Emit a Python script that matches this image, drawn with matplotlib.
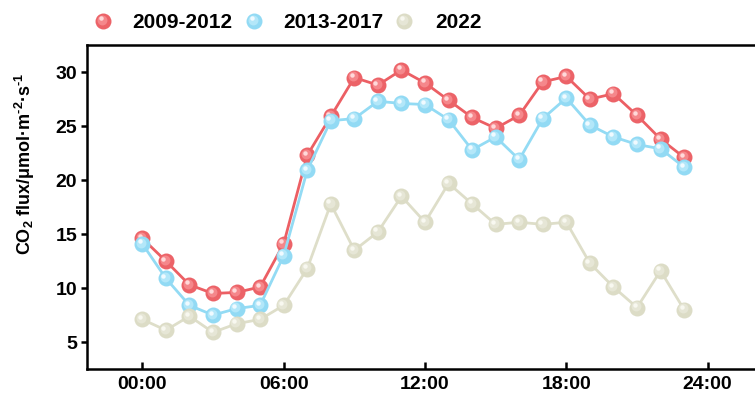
import matplotlib
matplotlib.use("Agg")
import matplotlib.pyplot as plt
from matplotlib.transforms import offset_copy

plt.rcParams["font.family"] = ["Liberation Sans", "DejaVu Sans"]
plt.rcParams["font.weight"] = "bold"
plt.rcParams["mathtext.fontset"] = "custom"
plt.rcParams["mathtext.rm"] = "Liberation Sans:bold"
plt.rcParams["mathtext.default"] = "rm"

# ── Data: hourly CO2 flux ───────────────────────────────────────────
hours = list(range(24))
flux_2009_2012 = [14.6, 12.5, 10.3, 9.5, 9.6, 10.1, 14.1, 22.3, 25.9, 29.5,
                  28.8, 30.2, 29.0, 27.4, 25.8, 24.8, 26.0, 29.1, 29.6, 27.5,
                  28.0, 26.0, 23.8, 22.1]
flux_2013_2017 = [14.1, 10.9, 8.4, 7.5, 8.1, 8.4, 13.0, 20.9, 25.5, 25.7,
                  27.3, 27.1, 27.0, 25.6, 22.8, 24.0, 21.9, 25.7, 27.6, 25.1,
                  24.0, 23.3, 22.9, 21.2]
flux_2022 = [7.1, 6.1, 7.4, 5.9, 6.7, 7.1, 8.4, 11.8, 17.8, 13.5,
             15.2, 18.5, 16.1, 19.7, 17.8, 15.9, 16.1, 15.9, 16.1, 12.3,
             10.1, 8.2, 11.6, 8.0]
labels = ["2009-2012", "2013-2017", "2022"]
xtick_pos = [0, 6, 12, 18, 24]
xtick_labels = ["00:00", "06:00", "12:00", "18:00", "24:00"]
ytick_pos = [5, 10, 15, 20, 25, 30]

# (line colour, ball base, ball mid-tone, highlight)
styles = [
    ("#EC5F64", "#EC6368", "#F5878B", "#FFD9DA"),
    ("#93DBF4", "#92DAF4", "#B3E7F9", "#F0FAFF"),
    ("#DEDEC9", "#DCDCC6", "#E6E6D6", "#F8F8F0"),
]

fig = plt.figure(figsize=(7.55, 3.96), dpi=100)
ax = fig.add_axes([0.1152, 0.068, 0.897, 0.818])

MS = 11.5


def draw_balls(ax, x, y, st, zorder, transform=None):
    line_c, base, mid, hi = st
    base_t = transform if transform is not None else ax.transData
    if transform is None:
        ax.plot(x, y, color=line_c, lw=2, zorder=zorder, solid_capstyle="round")
    ax.plot(x, y, ls="none", marker="o", ms=MS, mfc=base, mec="none",
            transform=base_t, zorder=zorder, clip_on=False)
    t_mid = offset_copy(base_t, fig=fig, x=-0.9, y=0.9, units="points")
    ax.plot(x, y, ls="none", marker="o", ms=MS * 0.62, mfc=mid, mec="none",
            transform=t_mid, zorder=zorder, clip_on=False)
    t_hi = offset_copy(base_t, fig=fig, x=-1.8, y=1.8, units="points")
    ax.plot(x, y, ls="none", marker="o", ms=MS * 0.28, mfc=hi, mec="none",
            transform=t_hi, zorder=zorder, clip_on=False)


for i, series in enumerate([flux_2009_2012, flux_2013_2017, flux_2022]):
    draw_balls(ax, hours, series, styles[i], 3 + i)

ax.set_xlim(-2.35, 26.4)
ax.set_ylim(2.5, 32.5)
ax.set_xticks(xtick_pos)
ax.set_xticklabels(xtick_labels)
ax.set_yticks(ytick_pos)

for s in ax.spines.values():
    s.set_linewidth(1.8)
ax.tick_params(axis="x", direction="in", length=5, width=1.8, labelsize=14, pad=5)
ax.tick_params(axis="y", direction="out", length=4, width=1.8, labelsize=14, pad=3)

# hyphen (U+2010) in the exponents so they read "-2" / "-1" like plain text
ax.set_ylabel("CO$_2$ flux/μmol·m$^{\u20102}$·s$^{\u20101}$", fontsize=13, fontweight="bold")
ax.yaxis.set_label_coords(-0.074, 0.635)

# legend row across the top: ball + label per period
leg_marker_x = [103 / 755, 254 / 755, 404 / 755]
leg_text_x = [132 / 755, 283 / 755, 435 / 755]
leg_y = 0.947
for i, lab in enumerate(labels):
    draw_balls(ax, [leg_marker_x[i]], [leg_y], styles[i], 10, transform=fig.transFigure)
    fig.text(leg_text_x[i], leg_y, lab, fontsize=15, fontweight="bold",
             ha="left", va="center_baseline")

fig.savefig("out.png", dpi=100)
